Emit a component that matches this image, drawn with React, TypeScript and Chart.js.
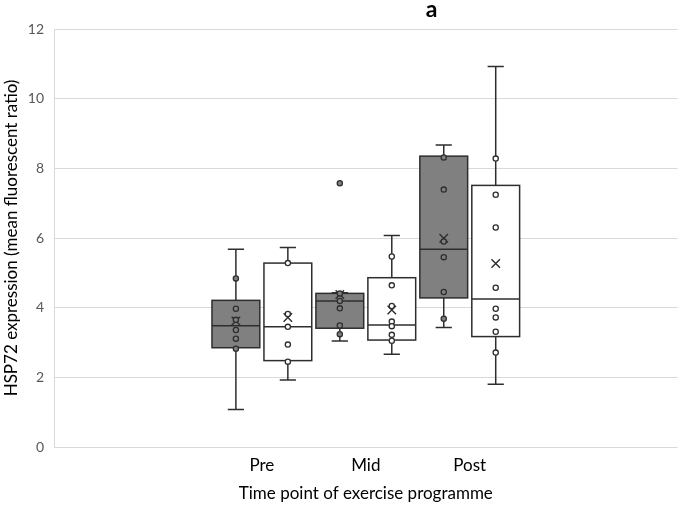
import React, { useEffect, useRef } from 'react';
import { Chart, registerables } from 'chart.js';

Chart.register(...registerables);

// ---- Data ----
const categories = ['Pre', 'Mid', 'Post'];
const categoryPositions = [2, 3, 4];
const yTicks = [0, 2, 4, 6, 8, 10, 12];

// Grey group (left box in each category)
const greyMin = [1.08, 3.04, 3.43];
const greyQ1 = [2.85, 3.41, 4.28];
const greyMedian = [3.48, 4.19, 5.68];
const greyQ3 = [4.21, 4.41, 8.35];
const greyMax = [5.68, 4.43, 8.67];
const greyMean = [3.62, 4.38, 5.99];
const greyPoints = [
  [4.84, 3.97, 3.65, 3.36, 3.11, 2.82],
  [7.57, 4.41, 4.19, 3.98, 3.49, 3.24],
  [8.31, 7.39, 5.9, 5.45, 4.45, 3.68],
];

// White group (right box in each category)
const whiteMin = [1.92, 2.66, 1.8];
const whiteQ1 = [2.48, 3.07, 3.17];
const whiteMedian = [3.45, 3.5, 4.25];
const whiteQ3 = [5.28, 4.86, 7.51];
const whiteMax = [5.73, 6.07, 10.92];
const whiteMean = [3.72, 3.93, 5.27];
const whitePoints = [
  [5.28, 3.82, 3.45, 2.94, 2.45],
  [5.47, 4.64, 4.05, 3.6, 3.47, 3.22, 3.05],
  [8.28, 7.24, 6.3, 4.57, 3.97, 3.72, 3.31, 2.71],
];

const GREY = '#808080';
const EDGE = '#2e2e2e';
const BOX_HALF = 0.23;
const CAP_HALF = 0.078;
const GROUP_OFFSET = 0.25;
const FONT = 'Lato, "Open Sans", sans-serif';

const groups = [
  { fill: GREY, offset: -GROUP_OFFSET, min: greyMin, q1: greyQ1, med: greyMedian, q3: greyQ3, max: greyMax },
  { fill: '#ffffff', offset: GROUP_OFFSET, min: whiteMin, q1: whiteQ1, med: whiteMedian, q3: whiteQ3, max: whiteMax },
];

function pointsData(points: number[][], offset: number) {
  const out: { x: number; y: number }[] = [];
  points.forEach((arr, i) => arr.forEach((v) => out.push({ x: categoryPositions[i] + offset, y: v })));
  return out;
}

function meanData(means: number[], offset: number) {
  return means.map((v, i) => ({ x: categoryPositions[i] + offset, y: v }));
}

export default function App() {
  const ref = useRef<HTMLCanvasElement>(null);

  useEffect(() => {
    if (!ref.current) return;

    const boxPlugin = {
      id: 'boxes',
      beforeDatasetsDraw(chart: any) {
        const { ctx } = chart;
        const x = chart.scales.x;
        const y = chart.scales.y;
        ctx.save();
        ctx.strokeStyle = EDGE;
        ctx.lineWidth = 1.5;
        groups.forEach((g) => {
          categoryPositions.forEach((c, i) => {
            const cx = c + g.offset;
            const mid = x.getPixelForValue(cx);
            const left = x.getPixelForValue(cx - BOX_HALF);
            const right = x.getPixelForValue(cx + BOX_HALF);
            const capL = x.getPixelForValue(cx - CAP_HALF);
            const capR = x.getPixelForValue(cx + CAP_HALF);
            const yMin = y.getPixelForValue(g.min[i]);
            const yMax = y.getPixelForValue(g.max[i]);
            const yQ1 = y.getPixelForValue(g.q1[i]);
            const yQ3 = y.getPixelForValue(g.q3[i]);
            const yMed = y.getPixelForValue(g.med[i]);
            // whiskers
            ctx.beginPath();
            ctx.moveTo(mid, yMax);
            ctx.lineTo(mid, yQ3);
            ctx.moveTo(mid, yQ1);
            ctx.lineTo(mid, yMin);
            ctx.moveTo(capL, yMax);
            ctx.lineTo(capR, yMax);
            ctx.moveTo(capL, yMin);
            ctx.lineTo(capR, yMin);
            ctx.stroke();
            // box
            ctx.fillStyle = g.fill;
            ctx.fillRect(left, yQ3, right - left, yQ1 - yQ3);
            ctx.strokeRect(left, yQ3, right - left, yQ1 - yQ3);
            // median
            ctx.beginPath();
            ctx.moveTo(left, yMed);
            ctx.lineTo(right, yMed);
            ctx.stroke();
          });
        });
        ctx.restore();
      },
      afterDraw(chart: any) {
        const { ctx, chartArea } = chart;
        ctx.save();
        ctx.fillStyle = '#000';
        ctx.font = `bold 23px ${FONT}`;
        ctx.textAlign = 'center';
        ctx.textBaseline = 'alphabetic';
        ctx.fillText('a', chartArea.left + (chartArea.right - chartArea.left) * 0.6055, 17);
        ctx.restore();
      },
    };

    const pointCommon = {
      type: 'scatter' as const,
      pointRadius: 2.6,
      pointBorderWidth: 1.3,
      pointBorderColor: EDGE,
      pointHoverRadius: 2.6,
      showLine: false,
    };

    const chart = new Chart(ref.current, {
      type: 'scatter',
      data: {
        datasets: [
          { ...pointCommon, label: 'grey points', data: pointsData(greyPoints, -GROUP_OFFSET), pointBackgroundColor: GREY },
          { ...pointCommon, label: 'white points', data: pointsData(whitePoints, GROUP_OFFSET), pointBackgroundColor: '#ffffff' },
          {
            type: 'scatter',
            label: 'grey mean',
            data: meanData(greyMean, -GROUP_OFFSET),
            pointStyle: 'crossRot',
            pointRadius: 6,
            pointBorderWidth: 1.4,
            pointBorderColor: EDGE,
          },
          {
            type: 'scatter',
            label: 'white mean',
            data: meanData(whiteMean, GROUP_OFFSET),
            pointStyle: 'crossRot',
            pointRadius: 6,
            pointBorderWidth: 1.4,
            pointBorderColor: EDGE,
          },
        ],
      },
      options: {
        animation: false,
        responsive: true,
        maintainAspectRatio: false,
        layout: { padding: { top: 29, right: 2, left: 0, bottom: 0 } },
        plugins: {
          legend: { display: false },
          tooltip: { enabled: false },
          title: { display: false },
        },
        scales: {
          x: {
            type: 'linear',
            min: 0,
            max: 6,
            grid: { display: false, drawTicks: false },
            border: { display: false },
            afterBuildTicks: (scale: any) => {
              scale.ticks = categoryPositions.map((v) => ({ value: v }));
            },
            afterFit: (scale: any) => {
              scale.height = 60;
            },
            ticks: {
              padding: 8,
              color: '#000',
              font: { family: FONT, size: 17 },
              maxRotation: 0,
              autoSkip: false,
              callback: (v: any) => {
                const idx = categoryPositions.indexOf(Number(v));
                return idx >= 0 ? categories[idx] : '';
              },
            },
            title: {
              display: true,
              text: 'Time point of exercise programme',
              color: '#000',
              font: { family: FONT, size: 17 },
              padding: { top: 2, bottom: 3 },
            },
          },
          y: {
            type: 'linear',
            min: 0,
            max: 12,
            afterBuildTicks: (scale: any) => {
              scale.ticks = yTicks.map((v) => ({ value: v }));
            },
            afterFit: (scale: any) => {
              scale.width = 54;
            },
            grid: { color: '#d9d9d9', lineWidth: 1, drawTicks: false },
            border: { display: true, color: '#d9d9d9', width: 1 },
            ticks: {
              padding: 10,
              color: '#595959',
              font: { family: FONT, size: 14 },
            },
            title: {
              display: true,
              text: 'HSP72 expression (mean fluorescent ratio)',
              color: '#000',
              font: { family: FONT, size: 17 },
              padding: { top: 1, bottom: 2 },
            },
          },
        },
      },
      plugins: [boxPlugin],
    });

    return () => chart.destroy();
  }, []);

  return (
    <div style={{ position: 'fixed', left: 0, top: 0, width: 685, height: 507, background: '#fff' }}>
      <canvas ref={ref} />
    </div>
  );
}
